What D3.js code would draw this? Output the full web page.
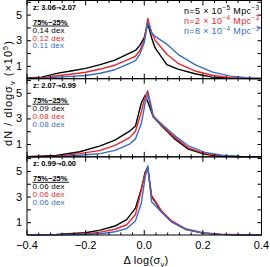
<!DOCTYPE html>
<html>
<head>
<meta charset="utf-8">
<script src="https://cdn.jsdelivr.net/npm/d3@7"></script>
<style>
  body { margin: 0; background: #fff; }
  svg { display: block; font-family: "Liberation Sans", Arial, sans-serif; }
</style>
</head>
<body>
<div id="chart"></div>
<script>
// Data
const deltaTop = [-0.40, -0.35, -0.29, -0.25, -0.20, -0.15, -0.10, -0.05, -0.03, -0.015, 0.0, 0.012, 0.025, 0.037, 0.077, 0.115, 0.173, 0.231, 0.293, 0.36, 0.40];
const topBlack = [0.05, 0.12, 0.45, 0.6, 0.8, 1.1, 1.45, 2.0, 2.2, 2.6, 3.2, 4.3, 3.2, 2.4, 1.1, 0.74, 0.38, 0.12, 0.04, 0.01, 0.0];
const topRed   = [0.02, 0.05, 0.25, 0.35, 0.5, 0.75, 1.05, 1.55, 1.75, 2.2, 3.0, 4.7, 3.6, 3.0, 1.9, 1.2, 0.6, 0.27, 0.08, 0.02, 0.01];
const topBlue  = [0.01, 0.02, 0.12, 0.18, 0.25, 0.42, 0.7, 1.2, 1.4, 1.9, 2.8, 4.4, 3.6, 3.3, 2.7, 1.9, 1.1, 0.53, 0.2, 0.05, 0.02];

const deltaMid = [-0.40, -0.30, -0.22, -0.15, -0.10, -0.05, -0.03, -0.01, 0.003, 0.012, 0.031, 0.06, 0.105, 0.15, 0.207, 0.265, 0.33, 0.40];
const midBlack = [0.02, 0.1, 0.4, 0.86, 1.3, 2.0, 2.4, 4.2, 4.8, 4.3, 3.1, 2.4, 1.38, 0.6, 0.2, 0.05, 0.01, 0.0];
const midRed   = [0.01, 0.05, 0.25, 0.5, 0.9, 1.5, 2.0, 3.5, 4.7, 5.15, 3.2, 2.45, 1.5, 0.7, 0.25, 0.08, 0.02, 0.0];
const midBlue  = [0.0, 0.02, 0.12, 0.25, 0.5, 1.0, 1.4, 2.6, 4.2, 4.9, 3.1, 2.55, 1.64, 0.86, 0.35, 0.12, 0.03, 0.01];

const deltaBot = [-0.40, -0.30, -0.20, -0.15, -0.10, -0.06, -0.03, -0.01, 0.003, 0.012, 0.025, 0.06, 0.094, 0.14, 0.20, 0.26, 0.33, 0.40];
const botBlack = [0.01, 0.05, 0.18, 0.38, 0.7, 1.2, 2.1, 3.6, 4.9, 5.3, 3.0, 1.8, 1.04, 0.45, 0.15, 0.05, 0.01, 0.0];
const botRed   = [0.0, 0.02, 0.08, 0.22, 0.45, 0.8, 1.6, 3.5, 4.8, 5.2, 3.1, 1.85, 1.1, 0.5, 0.18, 0.06, 0.02, 0.0];
const botBlue  = [0.0, 0.01, 0.04, 0.1, 0.25, 0.5, 1.1, 2.5, 4.5, 5.4, 2.6, 1.75, 1.0, 0.45, 0.15, 0.05, 0.01, 0.0];

const panelFrom = ['3.06', '2.07', '0.99'];
const panelTo   = ['2.07', '0.99', '0.00'];
const dexBlack = ['0.14 dex', '0.09 dex', '0.06 dex'];
const dexRed   = ['0.12 dex', '0.08 dex', '0.06 dex'];
const dexBlue  = ['0.11 dex', '0.08 dex', '0.06 dex'];
const legendCoef = ['5', '2', '8'];
const legendExp  = ['\u22125', '\u22124', '\u22124'];
const xTicks = [-0.4, -0.2, 0.0, 0.2, 0.4];
const yTickLabels = [1, 3, 5];

const colors = ['#000000', '#e8262a', '#3a6cc6'];

const W = 270, H = 267;
const plotLeft = 27, plotRight = 261.5, plotTop = 0.5, plotBottom = 235;
const panelH = (plotBottom - plotTop) / 3;

const svg = d3.select('#chart').append('svg')
    .attr('width', W).attr('height', H);

const x = d3.scaleLinear().domain([-0.4, 0.4]).range([plotLeft, plotRight]);

const panels = [
    { delta: deltaTop, series: [topBlack, topRed, topBlue] },
    { delta: deltaMid, series: [midBlack, midRed, midBlue] },
    { delta: deltaBot, series: [botBlack, botRed, botBlue] }
];

panels.forEach((p, i) => {
    const y0 = plotTop + i * panelH;
    const y = d3.scaleLinear().domain([0, 6.1]).range([y0 + panelH, y0]);
    const g = svg.append('g');

    // Curves
    const line = d3.line()
        .x((d, k) => x(p.delta[k]))
        .y(d => y(d));
    p.series.forEach((s, k) => {
        g.append('path')
            .datum(s)
            .attr('d', line)
            .attr('fill', 'none')
            .attr('stroke', colors[k])
            .attr('stroke-width', 1.4)
            .attr('stroke-linejoin', 'round');
    });

    // Frame
    g.append('rect')
        .attr('x', plotLeft).attr('y', y0)
        .attr('width', plotRight - plotLeft).attr('height', panelH)
        .attr('fill', 'none').attr('stroke', '#000').attr('stroke-width', 1);

    // Y ticks (inward, both sides)
    const yAxisL = d3.axisLeft(y).tickValues([1, 2, 3, 4, 5, 6]).tickSizeInner(-4).tickSizeOuter(0)
        .tickFormat(d => yTickLabels.includes(d) ? d : '');
    const gl = g.append('g').attr('transform', `translate(${plotLeft},0)`).call(yAxisL);
    gl.select('.domain').remove();
    gl.selectAll('text').attr('x', -5).style('font-size', '11px')
        .style('font-family', '"Liberation Sans", Arial, sans-serif').attr('fill', '#000');

    const yAxisR = d3.axisRight(y).tickValues([1, 2, 3, 4, 5, 6]).tickSizeInner(-4).tickSizeOuter(0).tickFormat('');
    const gr = g.append('g').attr('transform', `translate(${plotRight},0)`).call(yAxisR);
    gr.select('.domain').remove();

    // X ticks (inward on bottom and top of each panel)
    const minor = d3.range(-0.4, 0.4001, 0.04);
    [[y0 + panelH, -1], [y0, 1]].forEach(([yy, dir]) => {
        g.selectAll(null).data(minor).enter().append('line')
            .attr('x1', d => x(d)).attr('x2', d => x(d))
            .attr('y1', yy)
            .attr('y2', d => yy + dir * (Math.abs(Math.round(d * 10) - d * 10) < 1e-6 && Math.round(d * 10) % 2 === 0 ? 5 : 2.5))
            .attr('stroke', '#000').attr('stroke-width', 1);
    });

    // Panel annotations
    const tx = 33;
    const zt = g.append('text').attr('x', tx).attr('y', y0 + 9.5)
        .style('font-size', '7.5px').style('font-weight', 'bold');
    zt.append('tspan').text(`z: ${panelFrom[i]}`);
    zt.append('tspan').style('font-family', '"DejaVu Sans", sans-serif').style('font-size', '6.5px').text('\u2192');
    zt.append('tspan').text(panelTo[i]);
    g.append('text').attr('x', tx).attr('y', y0 + 24)
        .style('font-size', '7.5px').style('font-weight', 'bold').text('75%\u221225%');
    g.append('line')
        .attr('x1', tx - 0.5).attr('x2', tx + 36)
        .attr('y1', y0 + 25.5).attr('y2', y0 + 25.5)
        .attr('stroke', '#000').attr('stroke-width', 0.9);
    [dexBlack, dexRed, dexBlue].forEach((arr, k) => {
        g.append('text').attr('x', tx - 0.5).attr('y', y0 + 32.3 + k * 7.8)
            .style('font-size', '8px').style('letter-spacing', '0.2px')
            .attr('fill', colors[k]).text(arr[i]);
    });
});

// Legend in top panel
legendCoef.forEach((c, k) => {
    const t = svg.append('text').attr('x', 259.5).attr('y', 13.5 + k * 10.3)
        .attr('text-anchor', 'end').style('font-size', '9px').style('letter-spacing', '0.35px')
        .attr('fill', colors[k]);
    t.append('tspan').text(`n=${c} \u00d7 10`);
    t.append('tspan').attr('dy', -3.5).style('font-size', '6.5px').text(legendExp[k]);
    t.append('tspan').attr('dy', 3.5).text(' Mpc');
    t.append('tspan').attr('dy', -3.5).style('font-size', '6.5px').text('\u22123');
});

// X tick labels
svg.selectAll('.xlab').data(xTicks).enter().append('text')
    .attr('x', d => x(d)).attr('y', plotBottom + 14)
    .attr('text-anchor', 'middle').style('font-size', '11px')
    .text(d => d === 0 ? '0.0' : d3.format('.1f')(d).replace('-', '\u2212'));

// X label
const xl = svg.append('text').attr('x', 146).attr('y', 264)
    .attr('text-anchor', 'middle').style('font-size', '11px').style('letter-spacing', '0.3px');
xl.append('tspan').text('\u0394 log(\u03c3');
xl.append('tspan').attr('dy', 2.5).style('font-size', '7.5px').text('v');
xl.append('tspan').attr('dy', -2.5).text(')');

// Y label
const yl = svg.append('text')
    .attr('transform', 'translate(12,93) rotate(-90)')
    .attr('text-anchor', 'middle').style('font-size', '11px').style('letter-spacing', '1px');
yl.append('tspan').text('dN / dlog\u03c3');
yl.append('tspan').attr('dy', 2.5).style('font-size', '7.5px').text('v');
yl.append('tspan').attr('dy', -2.5).text(' (\u00d710');
yl.append('tspan').attr('dy', -4).style('font-size', '7.5px').text('5');
yl.append('tspan').attr('dy', 4).text(')');
</script>
</body>
</html>
